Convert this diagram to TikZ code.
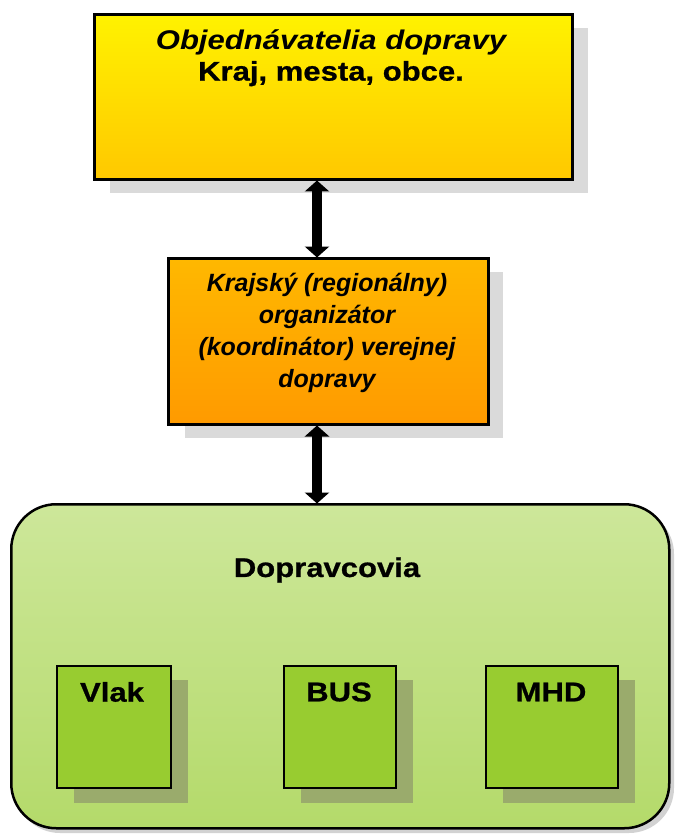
\documentclass[tikz,border=0pt]{standalone}
\usepackage{fontspec}
\setmainfont{Liberation Sans}[BoldFeatures={FakeBold=0.8}]
\newfontfamily\widefont{Liberation Sans}[FakeStretch=1.15,BoldFeatures={FakeBold=0.8}]
\usetikzlibrary{arrows.meta}
\definecolor{shadowgray}{HTML}{DADADA}
\definecolor{innershadow}{HTML}{9AAB6C}
\definecolor{innergreen}{HTML}{98CC30}
\definecolor{ytop}{HTML}{FFF200}
\definecolor{ybot}{HTML}{FFC800}
\definecolor{otop}{HTML}{FFB800}
\definecolor{obot}{HTML}{FF9A00}
\definecolor{gtop}{HTML}{CDE79A}
\definecolor{gbot}{HTML}{B4DA6A}
\tikzset{
  box/.style={draw=black, rectangle, anchor=north west, inner sep=0pt},
  dbl/.style={line width=10pt, {Triangle[width=24pt,length=11pt]}-{Triangle[width=24pt,length=11pt]}, shorten <=-0.5pt, shorten >=-0.5pt},
  toptext/.style={align=center, font=\widefont\bfseries\fontsize{27}{31}\selectfont},
  midtext/.style={align=center, font=\bfseries\itshape\fontsize{25}{32}\selectfont},
  bottext/.style={align=center, font=\widefont\bfseries\fontsize{27}{30}\selectfont},
}
\begin{document}
\begin{tikzpicture}[x=1pt,y=-1pt]
\useasboundingbox (0,0) rectangle (677,834);
\fill[white] (0,0) rectangle (677,834);
% shadows
\fill[shadowgray] (110,28) rectangle (588,193);
\fill[shadowgray] (185,272) rectangle (503,438);
\fill[gray!35, rounded corners=45pt] (15,509) rectangle (674,833);
% top box
\node[box, line width=3pt, top color=ytop, bottom color=ybot, minimum width=478pt, minimum height=165pt] (top) at (93,13) {};
\node[toptext] (toptx) at (331,58) {\itshape Objednávatelia dopravy\\Kraj, mesta, obce.};
% middle box
\node[box, line width=3pt, top color=otop, bottom color=obot, minimum width=320pt, minimum height=166pt] (mid) at (167,257) {};
\node[midtext] (midtx) at (327,333) {Krajský (regionálny)\\organizátor\\(koordinátor) verejnej\\dopravy};
% green box
\node[box, line width=2.5pt, rounded corners=45pt, top color=gtop, bottom color=gbot, minimum width=658pt, minimum height=324pt] (grp) at (10,503) {};
\node[bottext] (grptx) at (327,570) {Dopravcovia};
% inner shadows
\fill[innershadow] (74,680) rectangle (188,803);
\fill[innershadow] (301,680) rectangle (413,803);
\fill[innershadow] (503,680) rectangle (635,803);
% inner boxes
\node[box, line width=1.5pt, fill=innergreen, minimum width=114pt, minimum height=122pt] (vlak) at (56,665) {};
\node[box, line width=1.5pt, fill=innergreen, minimum width=112pt, minimum height=122pt] (bus) at (283,665) {};
\node[box, line width=1.5pt, fill=innergreen, minimum width=132pt, minimum height=122pt] (mhd) at (485,665) {};
\node[bottext] (vlaktx) at (112,692) {Vlak};
\node[bottext] (bustx) at (339,692) {BUS};
\node[bottext] (mhdtx) at (551,692) {MHD};
% arrows
\coordinate (ax) at (317,0);
\draw[dbl] (top.south -| ax) -- (mid.north -| ax);
\draw[dbl] (mid.south -| ax) -- (grp.north -| ax);
\end{tikzpicture}
\end{document}
